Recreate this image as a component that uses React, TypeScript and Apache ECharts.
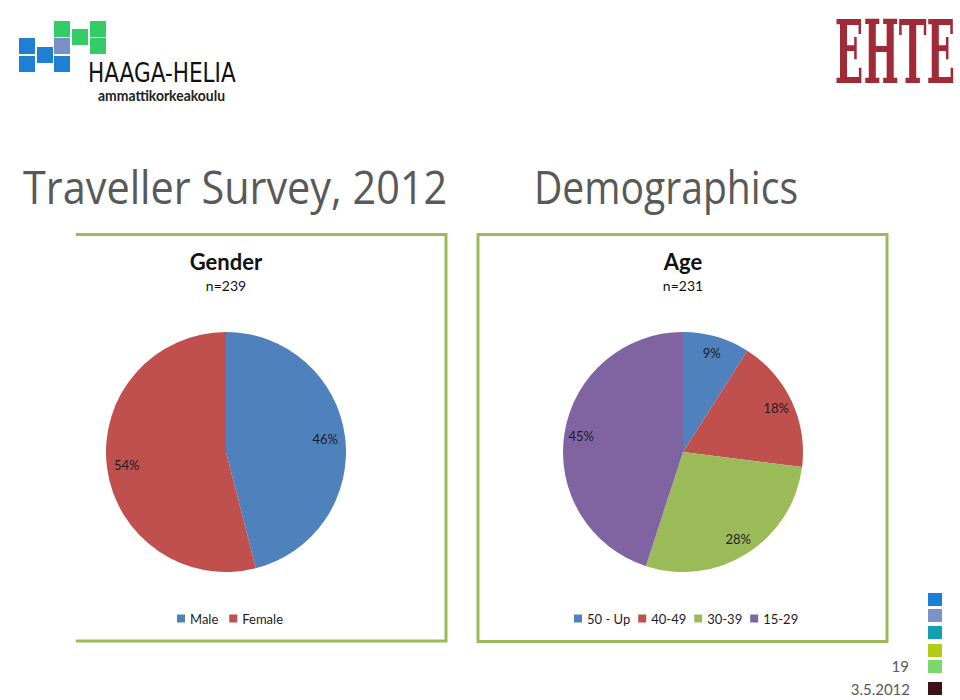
import React, { useEffect, useRef } from "react";
import * as echarts from "echarts";

const mainTitle = "Traveller Survey, 2012";
const sectionTitle = "Demographics";
const genderTitle = "Gender";
const genderN = "n=239";
const genderCategories = ["Male", "Female"];
const genderValues = [46, 54];
const genderColors = ["#4f81bd", "#c0504d"];

const ageTitle = "Age";
const ageN = "n=231";
const ageCategories = ["50 - Up", "40-49", "30-39", "15-29"];
const ageValues = [9, 18, 28, 45];
const ageColors = ["#4f81bd", "#c0504d", "#9bbb59", "#8064a2"];

const pageNumber = "19";
const dateLabel = "3.5.2012";
const sideSquareColors = ["#1a7fd6", "#7b93c9", "#12a0b2", "#b3cc1a", "#7cd86c", "#3a1418"];

const LABEL_FONT = "Lato, 'Open Sans', sans-serif";
const BOX_GREEN = "#9bbb59";

function pieData(names: string[], values: number[], colors: string[]) {
  return names.map((n, i) => ({ name: n, value: values[i], itemStyle: { color: colors[i] } }));
}

function labelPie(center: number[], inner: number, names: string[], values: number[]) {
  return {
    type: "pie",
    center,
    radius: [inner, 120],
    startAngle: 90,
    clockwise: true,
    silent: true,
    z: 3,
    itemStyle: { color: "rgba(0,0,0,0)", borderWidth: 0 },
    label: {
      show: true,
      position: "inside",
      formatter: (p: any) => p.value + "%",
      fontSize: 13,
      fontFamily: LABEL_FONT,
      color: "#1c1c24",
    },
    labelLine: { show: false },
    data: names.map((n, i) => ({ name: n, value: values[i] })),
  };
}

function mainPie(center: number[], names: string[], values: number[], colors: string[]) {
  return {
    type: "pie",
    center,
    radius: 120,
    startAngle: 90,
    clockwise: true,
    silent: true,
    z: 2,
    label: { show: false },
    labelLine: { show: false },
    itemStyle: { borderWidth: 0 },
    data: pieData(names, values, colors),
  };
}

function legendFor(names: string[], colors: string[], left: number, gap: number) {
  return {
    left,
    top: 612,
    orient: "horizontal",
    padding: 0,
    icon: "rect",
    itemWidth: 8,
    itemHeight: 8,
    itemGap: gap,
    selectedMode: false,
    textStyle: { fontSize: 13, fontFamily: LABEL_FONT, color: "#1c1c24" },
    data: names.map((n, i) => ({ name: n, itemStyle: { color: colors[i] } })),
  };
}

export default function App() {
  const ref = useRef<HTMLDivElement>(null);
  useEffect(() => {
    if (!ref.current) return;
    const chart = echarts.init(ref.current, null, { renderer: "svg" });

    const logoBlue = "#1f7fd3";
    const logoSlate = "#7a8fc6";
    const logoGreen = "#33cc66";
    const logoSquares: [number, number, string][] = [
      [19, 38, logoBlue],
      [19, 56, logoBlue],
      [37, 47, logoBlue],
      [54, 38, logoSlate],
      [54, 56, logoBlue],
      [54, 21, logoGreen],
      [72, 29, logoGreen],
      [90, 21, logoGreen],
      [90, 38, logoGreen],
    ];

    const graphics: any[] = [];
    logoSquares.forEach(([x, y, c]) => {
      graphics.push({ type: "rect", shape: { x, y, width: 16, height: 16 }, style: { fill: c } });
    });
    graphics.push({
      type: "text",
      x: 88,
      y: 73,
      scaleX: 0.83,
      style: {
        text: "HAAGA-HELIA",
        x: 0,
        y: 0,
        fontSize: 26,
        fontFamily: "'DejaVu Sans', sans-serif",
        fill: "#111",
        textAlign: "left",
        textVerticalAlign: "middle",
      },
    });
    graphics.push({
      type: "text",
      x: 98,
      y: 95,
      scaleX: 0.93,
      style: {
        text: "ammattikorkeakoulu",
        x: 0,
        y: 0,
        fontSize: 15,
        fontWeight: "bold",
        fontFamily: LABEL_FONT,
        fill: "#222",
        textAlign: "left",
        textVerticalAlign: "middle",
      },
    });
    // EHTE logo
    graphics.push({
      type: "text",
      x: 895,
      y: 52,
      scaleX: 0.72,
      scaleY: 1.69,
      style: {
        text: "EHTE",
        x: 0,
        y: 0,
        fontSize: 52,
        fontWeight: "bold",
        fontFamily: "'DejaVu Serif', serif",
        fill: "#a12a39",
        textAlign: "center",
        textVerticalAlign: "middle",
      },
    });
    // main titles
    graphics.push({
      type: "text",
      x: 23,
      y: 186,
      scaleX: 0.9,
      style: {
        text: mainTitle,
        x: 0,
        y: 0,
        fontSize: 46,
        fontFamily: "'Open Sans', sans-serif",
        fill: "#595959",
        textAlign: "left",
        textVerticalAlign: "middle",
      },
    });
    graphics.push({
      type: "text",
      x: 534,
      y: 186,
      scaleX: 0.85,
      style: {
        text: sectionTitle,
        x: 0,
        y: 0,
        fontSize: 46,
        fontFamily: "'Open Sans', sans-serif",
        fill: "#595959",
        textAlign: "left",
        textVerticalAlign: "middle",
      },
    });
    // boxes
    graphics.push({
      type: "polyline",
      shape: { points: [[76, 234.5], [446, 234.5], [446, 641], [76, 641]] },
      style: { stroke: BOX_GREEN, lineWidth: 3, fill: "none" },
    });
    graphics.push({
      type: "rect",
      shape: { x: 478, y: 234.5, width: 409, height: 407 },
      style: { stroke: BOX_GREEN, lineWidth: 3, fill: "none" },
    });
    // chart titles
    const chartTitle = (t: string, n: string, cx: number) => {
      graphics.push({
        type: "text",
        x: cx,
        y: 261,
        style: {
          text: t,
          x: 0,
          y: 0,
          fontSize: 22,
          fontWeight: "bold",
          fontFamily: LABEL_FONT,
          fill: "#111",
          textAlign: "center",
          textVerticalAlign: "middle",
        },
      });
      graphics.push({
        type: "text",
        x: cx,
        y: 285,
        style: {
          text: n,
          x: 0,
          y: 0,
          fontSize: 14,
          fontFamily: LABEL_FONT,
          fill: "#111",
          textAlign: "center",
          textVerticalAlign: "middle",
        },
      });
    };
    chartTitle(genderTitle, genderN, 226);
    chartTitle(ageTitle, ageN, 683);
    // side squares
    const sideY = [593, 609, 626, 644, 660, 682];
    sideSquareColors.forEach((c, i) => {
      graphics.push({ type: "rect", shape: { x: 928, y: sideY[i], width: 14, height: 13 }, style: { fill: c } });
    });
    graphics.push({
      type: "text",
      x: 909,
      y: 666,
      style: {
        text: pageNumber,
        x: 0,
        y: 0,
        fontSize: 15,
        fontFamily: LABEL_FONT,
        fill: "#595959",
        textAlign: "right",
        textVerticalAlign: "middle",
      },
    });
    graphics.push({
      type: "text",
      x: 910,
      y: 689,
      style: {
        text: dateLabel,
        x: 0,
        y: 0,
        fontSize: 15,
        fontFamily: LABEL_FONT,
        fill: "#595959",
        textAlign: "right",
        textVerticalAlign: "middle",
      },
    });

    chart.setOption({
      animation: false,
      backgroundColor: "#ffffff",
      legend: [
        legendFor(genderCategories, genderColors, 177, 11),
        legendFor(ageCategories, ageColors, 574, 8),
      ],
      series: [
        mainPie([226, 452], genderCategories, genderValues, genderColors),
        labelPie([226, 452], 74, genderCategories, genderValues),
        mainPie([683, 452], ageCategories, ageValues, ageColors),
        labelPie([683, 452], 80, ageCategories, ageValues),
      ],
      graphic: graphics,
    });
    return () => chart.dispose();
  }, []);
  return (
    <div
      ref={ref}
      style={{ position: "fixed", left: 0, top: 0, width: 960, height: 700, background: "#fff" }}
    />
  );
}
